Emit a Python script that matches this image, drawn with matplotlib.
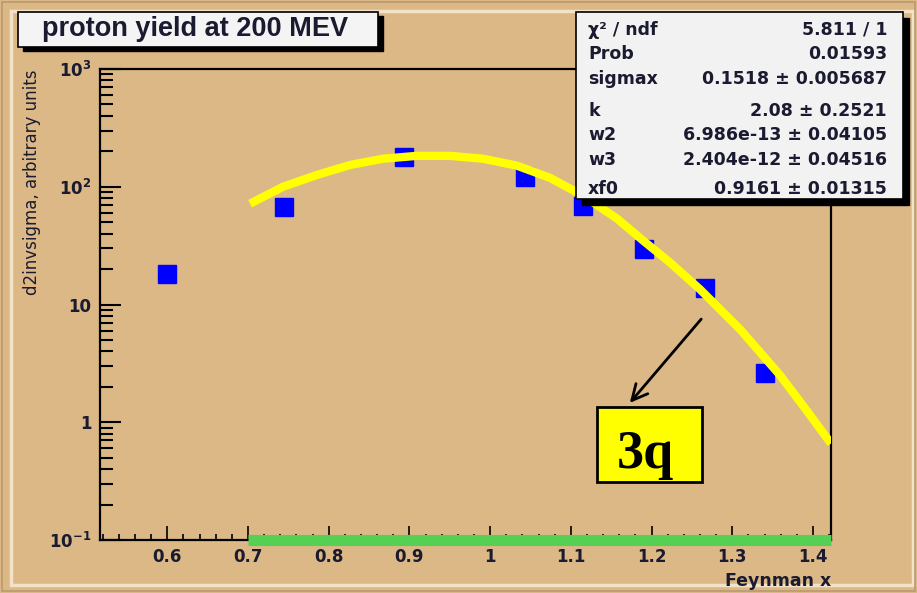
import matplotlib
matplotlib.use("Agg")
import matplotlib.pyplot as plt
from matplotlib.patches import Rectangle
from matplotlib.ticker import FixedLocator, FixedFormatter, MultipleLocator, FuncFormatter

plt.rcParams['font.family'] = ['DejaVu Sans']
plt.rcParams['mathtext.fontset'] = 'dejavusans'
plt.rcParams['mathtext.default'] = 'bf'

# measured points (Feynman x, yield)
xf_pts = [0.60, 0.745, 0.893, 1.043, 1.115, 1.191, 1.266, 1.341]
yield_pts = [18.3, 67.7, 179, 120, 68, 29.8, 13.9, 2.6]

# fitted curve, read along its length
fit_x = [0.7025, 0.7434, 0.7855, 0.8264, 0.8673, 0.9094, 0.9503, 0.9912, 1.0333,
         1.0742, 1.1151, 1.1572, 1.1895, 1.2229, 1.2602, 1.3098, 1.3593, 1.3928, 1.4223]
fit_y = [71.8, 100, 126, 153, 173, 183, 183, 173, 151,
         119, 84, 53.6, 34.9, 22.7, 13.4, 6.14, 2.50, 1.24, 0.66]

# region marked along the axis
band_x = [0.7, 1.4223]
band_y = [0.1, 0.1]

ytick_vals = [0.1, 1, 10, 100, 1000]
ytick_labels = [r'$10^{-1}$', '1', '10', r'$10^{2}$', r'$10^{3}$']

stat_names = ['\u03c7\u00b2 / ndf', 'Prob', 'sigmax', 'k', 'w2', 'w3', 'xf0']
stat_values = ['5.811 / 1', '0.01593', '0.1518 \u00b1 0.005687',
               '2.08 \u00b1 0.2521', '6.986e-13 \u00b1 0.04105',
               '2.404e-12 \u00b1 0.04516', '0.9161 \u00b1 0.01315']

bg = '#dcb886'
ink = '#1a1a30'
W, H = 917, 593
fig = plt.figure(figsize=(W / 100, H / 100), dpi=100, facecolor=bg)

def fx(px):
    return px / W

def fy(py):
    return 1 - py / H

# pad bevel
fig.patches.append(Rectangle((fx(11), fy(585)), fx(902), 574 / H, transform=fig.transFigure,
                             fill=False, edgecolor='#f2e2c8', lw=2.5, zorder=0))
fig.patches.append(Rectangle((0.002, 0.003), 0.996, 0.994, transform=fig.transFigure,
                             fill=False, edgecolor='#b89a70', lw=1.2, zorder=0))

ax = fig.add_axes([fx(100), fy(540), fx(831) - fx(100), fy(69) - fy(540)])
ax.set_facecolor(bg)
ax.set_yscale('log')
ax.set_xlim(0.5166, 1.4223)
ax.set_ylim(0.1, 1000)

ax.plot(fit_x, fit_y, color='#ffff00', lw=6, solid_capstyle='butt',
        solid_joinstyle='round', zorder=3)
ax.plot(xf_pts, yield_pts, ls='none', marker='s', ms=12.5, color='#0000ff',
        markeredgecolor='#0000ff', zorder=2)
ax.plot(band_x, band_y, color='#55d055', lw=8, solid_capstyle='butt', zorder=5, clip_on=False)

for s in ax.spines.values():
    s.set_linewidth(1.6)
    s.set_color('black')

ax.yaxis.set_major_locator(FixedLocator(ytick_vals))
ax.yaxis.set_major_formatter(FixedFormatter(ytick_labels))
ax.xaxis.set_major_locator(MultipleLocator(0.1))
ax.xaxis.set_minor_locator(MultipleLocator(0.02))
ax.xaxis.set_major_formatter(FuncFormatter(lambda v, p: f'{v:g}'))
ax.tick_params(axis='y', which='major', direction='in', length=15, width=1.5,
               labelsize=12, pad=6, right=False, labelcolor=ink)
ax.tick_params(axis='y', which='minor', direction='in', length=9, width=1.5,
               labelleft=False, right=False)
ax.tick_params(axis='x', which='major', direction='in', length=10, width=1.2,
               labelsize=12, pad=6, top=False, labelcolor=ink)
ax.tick_params(axis='x', which='minor', direction='in', length=4, width=1.2, top=False)
for lab in ax.get_xticklabels() + ax.get_yticklabels():
    lab.set_fontweight('bold')

fig.text(fx(831), fy(586), 'Feynman x', ha='right', va='baseline', fontsize=12.5,
         fontweight='bold', color=ink)
fig.text(fx(32), fy(182), 'd2invsigma, arbitrary units', rotation=90, ha='center',
         va='center', fontsize=12, color=ink)

# title box with shadow
fig.patches.append(Rectangle((fx(23), fy(51)), fx(360), 35 / H, transform=fig.transFigure,
                             facecolor='black', edgecolor='black', zorder=6))
fig.patches.append(Rectangle((fx(18), fy(47)), fx(360), 35 / H, transform=fig.transFigure,
                             facecolor='#f4f4f4', edgecolor='black', lw=1.2, zorder=7))
fig.text(fx(195), fy(36), 'proton yield at 200 MEV', ha='center', va='baseline',
         fontsize=19.5, family='Liberation Sans', fontweight='bold', color=ink, zorder=8)

# stats box with shadow
fig.patches.append(Rectangle((fx(582), fy(205)), fx(327), 187 / H, transform=fig.transFigure,
                             facecolor='black', edgecolor='black', zorder=6))
fig.patches.append(Rectangle((fx(576), fy(199)), fx(327), 187 / H, transform=fig.transFigure,
                             facecolor='#f2f2f2', edgecolor='black', lw=1.2, zorder=7))
row_base = [35, 59, 84, 116, 140, 165, 194]
for name, val, py in zip(stat_names, stat_values, row_base):
    fig.text(fx(588), fy(py), name, ha='left', va='baseline', fontsize=12.5,
             fontweight='bold', color=ink, zorder=8)
    fig.text(fx(887), fy(py), val, ha='right', va='baseline', fontsize=12.5,
             fontweight='bold', color=ink, zorder=8)

# 3q label and arrow
ax.annotate('', xy=(fx(628), fy(405)), xycoords='figure fraction',
            xytext=(fx(703), fy(317)), textcoords='figure fraction',
            arrowprops=dict(arrowstyle='->', color='black', lw=2,
                            mutation_scale=28), zorder=9)
fig.patches.append(Rectangle((fx(597), fy(482)), fx(105), 75 / H, transform=fig.transFigure,
                             facecolor='#ffff00', edgecolor='black', lw=2, zorder=8))
fig.text(fx(645), fy(468), '3q', ha='center', va='baseline', fontsize=39,
         family='Liberation Serif', fontweight='bold', color='black', zorder=9)

fig.savefig('out.png', dpi=100, facecolor=bg)
